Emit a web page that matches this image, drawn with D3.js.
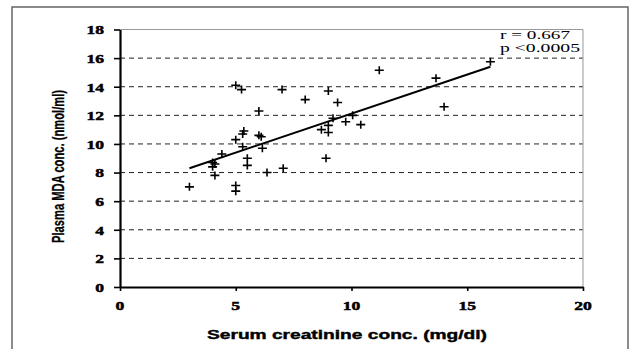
<!DOCTYPE html>
<html>
<head>
<meta charset="utf-8">
<script src="https://cdn.jsdelivr.net/npm/d3@7"></script>
<style>
  body { margin: 0; background: #fff; }
  svg { display: block; }
</style>
</head>
<body>
<svg id="chart" width="634" height="349"></svg>
<script>
// serum creatinine (mg/dl) vs plasma MDA (nmol/ml)
var creatinine = [3, 4, 4, 4.1, 4.1, 4.4, 5, 5.25, 5, 5.3, 5.35, 5.3, 5.5, 5.5, 5, 5,
    6, 6, 6.1, 6.15, 6.35, 7, 7.05, 8, 8.7, 9, 8.9, 9, 9, 9.2, 9.4, 9.75, 10.05, 10.4,
    11.2, 13.65, 14, 16];
var mda = [7.0, 8.7, 8.4, 8.6, 7.8, 9.3, 14.1, 13.8, 10.3, 10.7, 10.9, 9.8, 9.0, 8.5, 7.1, 6.7,
    12.3, 10.6, 10.5, 9.7, 8.0, 13.8, 8.3, 13.1, 11.0, 13.7, 9.0, 11.3, 10.8, 11.8, 12.9, 11.55, 12.0, 11.35,
    15.15, 14.6, 12.6, 15.75];
// regression line end points
var fitX = [3, 16];
var fitY = [8.3, 15.4];
var xTicks = [0, 5, 10, 15, 20];
var yTicks = [0, 2, 4, 6, 8, 10, 12, 14, 16, 18];
var statLines = ["r = 0.667", "p <0.0005"];

var svg = d3.select("#chart");

// outer frame
svg.append("rect")
    .attr("x", 12).attr("y", 7)
    .attr("width", 616).attr("height", 360)
    .attr("fill", "none")
    .attr("stroke", "#666")
    .attr("stroke-width", 1.5);

var x = d3.scaleLinear().domain([0, 20]).range([120, 583]);
var y = d3.scaleLinear().domain([0, 18]).range([287, 29.5]);

// dashed grid
svg.append("g")
    .selectAll("line")
    .data(yTicks.filter(d => d > 0 && d < 18))
    .join("line")
    .attr("x1", x(0)).attr("x2", x(20))
    .attr("y1", d => y(d)).attr("y2", d => y(d))
    .attr("stroke", "#222")
    .attr("stroke-width", 1)
    .attr("stroke-dasharray", "5,4");

// plot area border (top + right), light gray
svg.append("path")
    .attr("d", `M${x(0)},${y(18)}H${x(20)}V${y(0)}`)
    .attr("fill", "none")
    .attr("stroke", "#999")
    .attr("stroke-width", 1);

// y axis
var yAxis = svg.append("g")
    .attr("transform", `translate(${x(0)},0)`)
    .call(d3.axisLeft(y).tickValues(yTicks).tickSize(6).tickSizeOuter(0).tickFormat(""));
yAxis.select(".domain").attr("stroke", "#000").attr("stroke-width", 2.2);
yAxis.selectAll(".tick line").attr("stroke", "#000").attr("stroke-width", 1.6);

// x axis
var xAxis = svg.append("g")
    .attr("transform", `translate(0,${y(0)})`)
    .call(d3.axisBottom(x).tickValues(xTicks).tickSize(4).tickSizeOuter(0).tickFormat(""));
xAxis.select(".domain").attr("stroke", "#000").attr("stroke-width", 2.2);
xAxis.selectAll(".tick line").attr("stroke", "#000").attr("stroke-width", 1.6);

// tick labels, bold serif, stretched wide like the scan
svg.append("g")
    .selectAll("text")
    .data(yTicks)
    .join("text")
    .attr("transform", d => `translate(104,${y(d) + 4.8}) scale(1.3,1)`)
    .attr("text-anchor", "end")
    .attr("font-family", "Liberation Serif, serif")
    .attr("font-weight", "bold")
    .attr("font-size", 13.5)
    .attr("stroke", "#000")
    .attr("stroke-width", 0.5)
    .text(d => d);

svg.append("g")
    .selectAll("text")
    .data(xTicks)
    .join("text")
    .attr("transform", d => `translate(${x(d)},${310}) scale(1.3,1)`)
    .attr("text-anchor", "middle")
    .attr("font-family", "Liberation Serif, serif")
    .attr("font-weight", "bold")
    .attr("font-size", 13.5)
    .attr("stroke", "#000")
    .attr("stroke-width", 0.5)
    .text(d => d);

// axis titles
svg.append("text")
    .attr("x", 207).attr("y", 339)
    .attr("font-family", "Liberation Sans, Arial, sans-serif")
    .attr("font-weight", "bold")
    .attr("font-size", 13)
    .attr("stroke", "#000")
    .attr("stroke-width", 0.4)
    .attr("textLength", 280)
    .attr("lengthAdjust", "spacingAndGlyphs")
    .text("Serum creatinine conc. (mg/dl)");

svg.append("text")
    .attr("transform", "translate(63.5,243) rotate(-90)")
    .attr("font-family", "Liberation Sans Narrow, Liberation Sans, Arial, sans-serif")
    .attr("font-weight", "bold")
    .attr("font-size", 17)
    .attr("stroke", "#000")
    .attr("stroke-width", 0.3)
    .attr("textLength", 153)
    .attr("lengthAdjust", "spacingAndGlyphs")
    .text("Plasma MDA conc. (nmol/ml)");

// regression line
svg.append("line")
    .attr("x1", x(fitX[0])).attr("y1", y(fitY[0]))
    .attr("x2", x(fitX[1])).attr("y2", y(fitY[1]))
    .attr("stroke", "#000")
    .attr("stroke-width", 2);

// data points as "+"
svg.append("g")
    .selectAll("path")
    .data(creatinine.map((c, i) => [c, mda[i]]))
    .join("path")
    .attr("transform", d => `translate(${x(d[0])},${y(d[1])})`)
    .attr("d", "M-4.5,0H4.5M0,-4V4")
    .attr("stroke", "#000")
    .attr("stroke-width", 1.6)
    .attr("fill", "none");

// statistics
svg.append("g")
    .selectAll("text")
    .data(statLines)
    .join("text")
    .attr("x", 500)
    .attr("y", (d, i) => 38.5 + i * 13.5)
    .attr("font-family", "Liberation Serif, serif")
    .attr("font-size", 13.5)
    .attr("textLength", (d, i) => i == 0 ? 70 : 80)
    .attr("lengthAdjust", "spacingAndGlyphs")
    .text(d => d);
</script>
</body>
</html>
